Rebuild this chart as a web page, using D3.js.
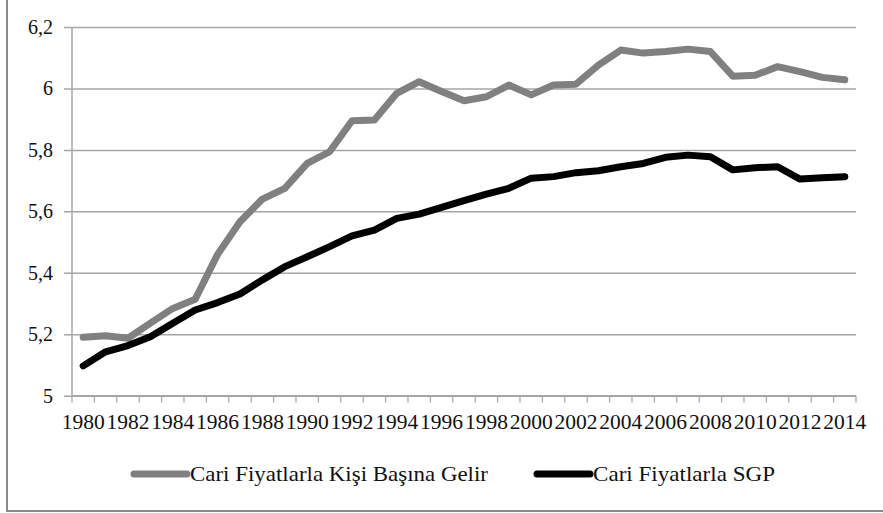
<!DOCTYPE html>
<html>
<head>
<meta charset="utf-8">
<script src="https://cdn.jsdelivr.net/npm/d3@7"></script>
<style>
  body { margin: 0; background: #fff; }
  text { font-family: "Liberation Serif", "DejaVu Serif", serif; fill: #111; }
</style>
</head>
<body>
<svg width="883" height="513"></svg>
<script>
var width = 883, height = 513;

// data
var years = d3.range(1980, 2015);
var kisiBasina = [5.19, 5.195, 5.187, 5.236, 5.284, 5.314, 5.46, 5.566, 5.64, 5.675,
  5.756, 5.794, 5.895, 5.897, 5.984, 6.022, 5.99, 5.96, 5.973, 6.011,
  5.979, 6.011, 6.014, 6.076, 6.125, 6.115, 6.12, 6.128, 6.12, 6.04,
  6.043, 6.071, 6.055, 6.036, 6.028];
var sgp = [5.097, 5.143, 5.163, 5.192, 5.236, 5.279, 5.303, 5.331, 5.377, 5.42,
  5.452, 5.485, 5.52, 5.539, 5.577, 5.591, 5.613, 5.635, 5.656, 5.675,
  5.708, 5.713, 5.726, 5.732, 5.745, 5.756, 5.776, 5.783, 5.778, 5.735,
  5.742, 5.745, 5.705, 5.709, 5.713];
var yTicks = [5, 5.2, 5.4, 5.6, 5.8, 6, 6.2];
var seriesNames = ["Cari Fiyatlarla Kişi Başına Gelir", "Cari Fiyatlarla SGP"];
var seriesColors = ["#808080", "#000000"];

var svg = d3.select("svg");

// outer frame (only left and bottom edges fall inside the picture)
svg.append("rect")
  .attr("x", 7).attr("y", -10)
  .attr("width", 900).attr("height", 521)
  .attr("fill", "none")
  .attr("stroke", "#8a8a8a")
  .attr("stroke-width", 2);

var plotL = 72, plotR = 856, plotT = 27, plotB = 395.7;

var x = d3.scaleBand().domain(years).range([plotL, plotR]);
var y = d3.scaleLinear().domain([5, 6.2]).range([plotB, plotT]);

// gridlines + y axis
var yAxis = svg.append("g")
  .attr("transform", "translate(" + plotL + ",0)")
  .call(d3.axisLeft(y).tickValues(yTicks)
    .tickSize(-(plotR - plotL))
    .tickFormat(function (d) { return d3.format(".1~f")(d).replace(".", ","); }));
yAxis.select(".domain").remove();
yAxis.selectAll(".tick line")
  .attr("x1", -8)
  .attr("stroke", "#a6a6a6")
  .attr("stroke-width", 1.5);
yAxis.selectAll(".tick text")
  .attr("x", -19)
  .attr("dy", "0.32em")
  .style("font-size", "20px")
  .style("font-family", "Liberation Serif, serif")
  .attr("fill", "#111");

// vertical axis line
svg.append("line")
  .attr("x1", plotL).attr("x2", plotL)
  .attr("y1", plotT).attr("y2", plotB)
  .attr("stroke", "#a6a6a6").attr("stroke-width", 1.5);

// x axis ticks between categories
var xAxis = svg.append("g");
xAxis.append("line")
  .attr("x1", plotL).attr("x2", plotR)
  .attr("y1", plotB).attr("y2", plotB)
  .attr("stroke", "#a6a6a6").attr("stroke-width", 1.5);
xAxis.selectAll(".tk")
  .data(years.concat([2015]))
  .enter().append("line")
  .attr("class", "tk")
  .attr("x1", function (d) { return d === 2015 ? plotR : x(d); })
  .attr("x2", function (d) { return d === 2015 ? plotR : x(d); })
  .attr("y1", plotB).attr("y2", plotB + 7)
  .attr("stroke", "#a6a6a6").attr("stroke-width", 1.2);
xAxis.selectAll(".lbl")
  .data(years.filter(function (d) { return d % 2 === 0; }))
  .enter().append("text")
  .attr("class", "lbl")
  .attr("x", function (d) { return x(d) + x.bandwidth() / 2; })
  .attr("y", 429)
  .attr("text-anchor", "middle")
  .attr("textLength", 43)
  .attr("lengthAdjust", "spacingAndGlyphs")
  .style("font-size", "21px")
  .text(function (d) { return d; });

// lines
var line = d3.line()
  .x(function (d, i) { return x(years[i]) + x.bandwidth() / 2; })
  .y(function (d) { return y(d); });

[kisiBasina, sgp].forEach(function (s, k) {
  svg.append("path")
    .datum(s)
    .attr("d", line)
    .attr("fill", "none")
    .attr("stroke", seriesColors[k])
    .attr("stroke-width", 7)
    .attr("stroke-linejoin", "round")
    .attr("stroke-linecap", "round");
});

// legend
var legendX = [132, 535], textLen = [298, 182];
seriesNames.forEach(function (name, k) {
  var g = svg.append("g").attr("transform", "translate(" + legendX[k] + ",474)");
  g.append("line")
    .attr("x1", 2).attr("x2", 55)
    .attr("stroke", seriesColors[k])
    .attr("stroke-width", 7)
    .attr("stroke-linecap", "round");
  g.append("text")
    .attr("x", 58).attr("y", 7)
    .attr("textLength", textLen[k])
    .attr("lengthAdjust", "spacingAndGlyphs")
    .style("font-size", "21px")
    .text(name);
});
</script>
</body>
</html>
